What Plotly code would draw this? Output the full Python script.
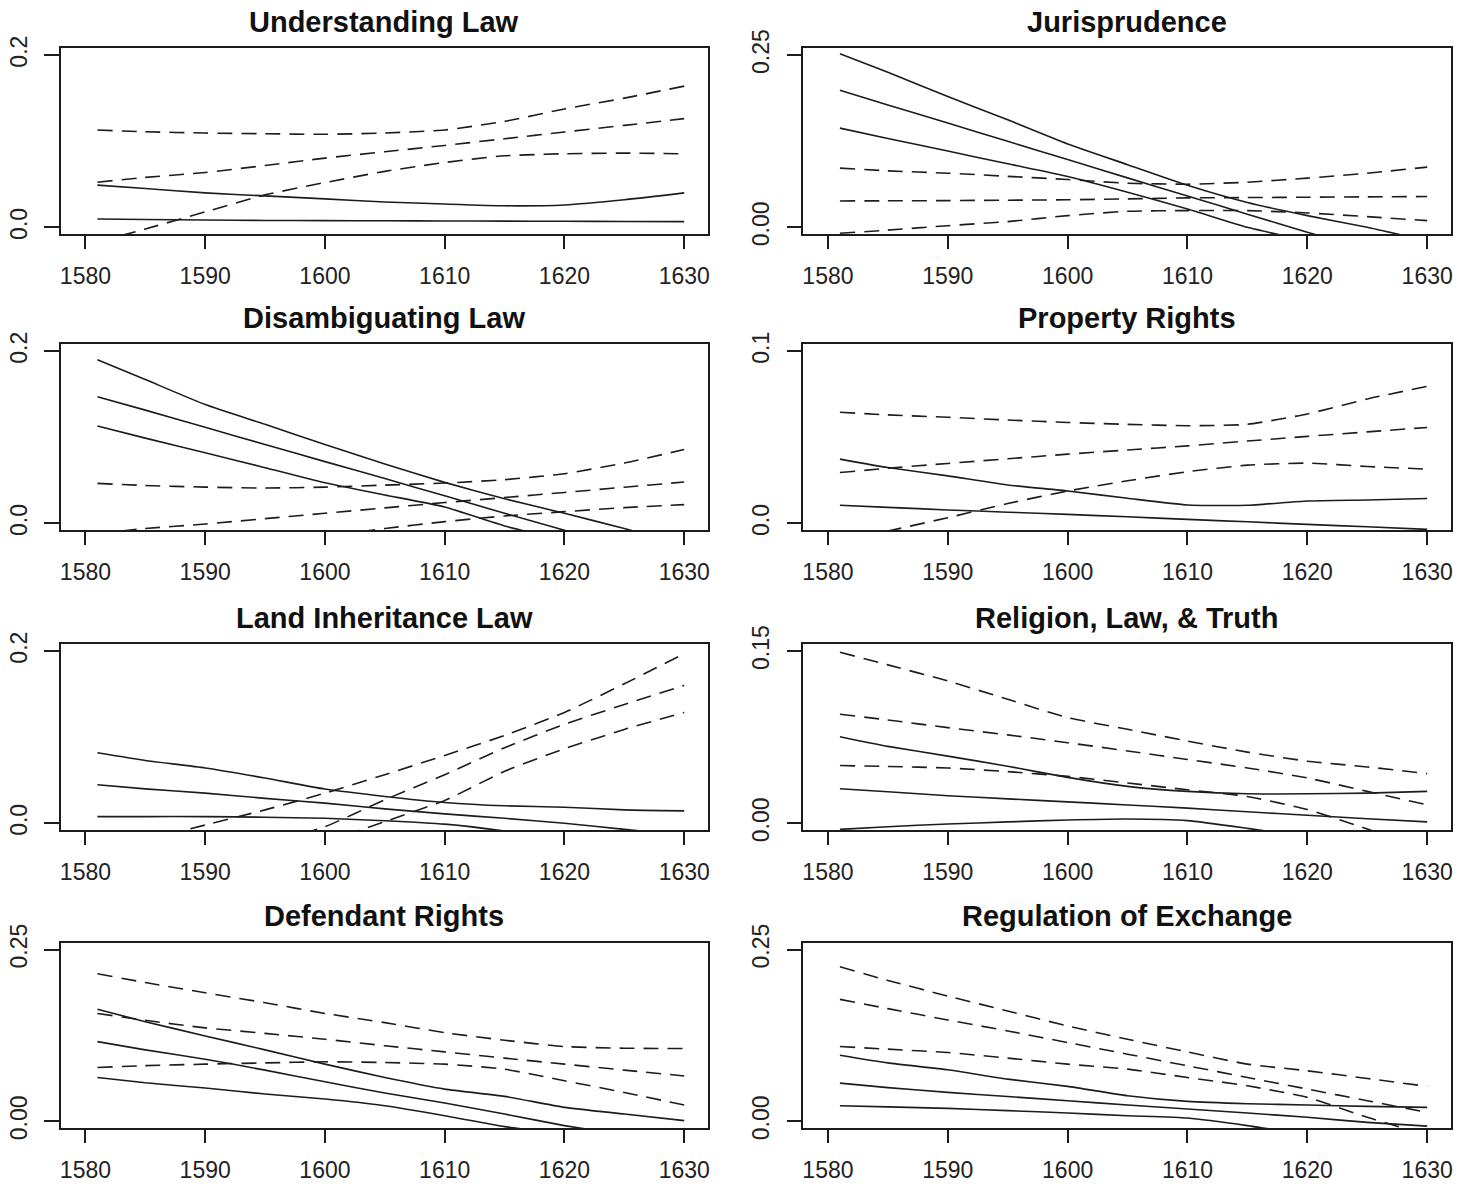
import plotly.graph_objects as go
from plotly.subplots import make_subplots

# Years at which each smoothed curve was sampled
YEARS = [1581, 1585, 1590, 1595, 1600, 1605, 1610, 1615, 1620, 1625, 1630]
X_TICKS = [1580, 1590, 1600, 1610, 1620, 1630]

TITLES = [
    "Understanding Law", "Jurisprudence",
    "Disambiguating Law", "Property Rights",
    "Land Inheritance Law", "Religion, Law, & Truth",
    "Defendant Rights", "Regulation of Exchange",
]
Y_MAX = [0.2, 0.25, 0.2, 0.1, 0.2, 0.15, 0.25, 0.25]
Y_TICK_TEXT = [
    ["0.0", "0.2"], ["0.00", "0.25"],
    ["0.0", "0.2"], ["0.0", "0.1"],
    ["0.0", "0.2"], ["0.00", "0.15"],
    ["0.00", "0.25"], ["0.00", "0.25"],
]

# Solid curves (estimate and band) and dashed curves per topic
UNDERSTANDING_SOLID = [
    [0.049, 0.045, 0.040, 0.0365, 0.033, 0.0295, 0.027, 0.025, 0.026, 0.032, 0.040],
    [0.0097, 0.009, 0.0085, 0.008, 0.0078, 0.0076, 0.0074, 0.0072, 0.007, 0.0068, 0.0066],
]
UNDERSTANDING_DASHED = [
    [0.113, 0.111, 0.1095, 0.1087, 0.108, 0.1095, 0.113, 0.123, 0.1375, 0.150, 0.164],
    [0.0524, 0.058, 0.0637, 0.0718, 0.0804, 0.0878, 0.0951, 0.1029, 0.1107, 0.1184, 0.1262],
    [-0.017, -0.002, 0.018, 0.0377, 0.052, 0.065, 0.0753, 0.0831, 0.0854, 0.0862, 0.0854],
]

JURISPRUDENCE_SOLID = [
    [0.252, 0.225, 0.190, 0.156, 0.121, 0.091, 0.061, 0.036, 0.017, 0.0, -0.02],
    [0.199, 0.1777, 0.1515, 0.1248, 0.0985, 0.0718, 0.0456, 0.019, -0.007, -0.033, -0.06],
    [0.144, 0.129, 0.1107, 0.0922, 0.0738, 0.051, 0.0267, 0.0, -0.02, -0.04, -0.06],
]
JURISPRUDENCE_DASHED = [
    [0.0859, 0.082, 0.0786, 0.074, 0.0694, 0.064, 0.0626, 0.0655, 0.0714, 0.0786, 0.0874],
    [0.0383, 0.0385, 0.0388, 0.0394, 0.040, 0.0413, 0.0427, 0.0432, 0.0437, 0.0442, 0.0447],
    [-0.0087, -0.004, 0.0024, 0.0083, 0.017, 0.0233, 0.0243, 0.0243, 0.0209, 0.0155, 0.0097],
]

DISAMBIGUATING_SOLID = [
    [0.190, 0.167, 0.138, 0.115, 0.0916, 0.069, 0.0476, 0.0285, 0.0117, -0.006, -0.025],
    [0.147, 0.1315, 0.1115, 0.0916, 0.0717, 0.052, 0.032, 0.0117, -0.008, -0.028, -0.048],
    [0.113, 0.099, 0.0819, 0.0647, 0.0472, 0.033, 0.019, -0.003, -0.02, -0.04, -0.06],
]
DISAMBIGUATING_DASHED = [
    [0.0464, 0.044, 0.0421, 0.041, 0.0421, 0.0444, 0.0468, 0.0507, 0.0577, 0.070, 0.0858],
    [-0.012, -0.006, -0.0008, 0.0055, 0.0117, 0.018, 0.0242, 0.030, 0.0359, 0.042, 0.048],
    [-0.04, -0.033, -0.026, -0.02, -0.015, -0.006, 0.002, 0.0086, 0.0136, 0.0183, 0.0218],
]

PROPERTY_SOLID = [
    [0.0373, 0.0324, 0.0276, 0.0223, 0.0188, 0.0146, 0.0107, 0.0105, 0.013, 0.0136, 0.0144],
    [0.0105, 0.0093, 0.0078, 0.0065, 0.0052, 0.0038, 0.0023, 0.0009, -0.0006, -0.002, -0.0035],
]
PROPERTY_DASHED = [
    [0.0645, 0.063, 0.0616, 0.060, 0.0586, 0.0575, 0.0567, 0.0575, 0.0635, 0.0722, 0.0796],
    [0.0295, 0.032, 0.0348, 0.0375, 0.0402, 0.0426, 0.045, 0.0478, 0.0505, 0.0531, 0.0557],
    [-0.011, -0.0045, 0.0033, 0.0115, 0.0188, 0.0247, 0.030, 0.0338, 0.035, 0.033, 0.0315],
]

LAND_SOLID = [
    [0.0819, 0.073, 0.0643, 0.0526, 0.0398, 0.0312, 0.0242, 0.0203, 0.0187, 0.0156, 0.0144],
    [0.0448, 0.040, 0.0351, 0.029, 0.0234, 0.0168, 0.0109, 0.0058, 0.0, -0.007, -0.014],
    [0.0078, 0.0078, 0.0078, 0.007, 0.0058, 0.003, -0.001, -0.009, -0.02, -0.03, -0.04],
]
LAND_DASHED = [
    [-0.035, -0.02, -0.002, 0.0156, 0.035, 0.0565, 0.0788, 0.102, 0.1287, 0.162, 0.197],
    [-0.09, -0.07, -0.05, -0.025, -0.004, 0.0273, 0.0565, 0.0877, 0.115, 0.138, 0.160],
    [-0.12, -0.10, -0.075, -0.05, -0.022, 0.002, 0.0265, 0.0604, 0.0866, 0.109, 0.1287],
]

RELIGION_SOLID = [
    [0.0754, 0.067, 0.0585, 0.0497, 0.040, 0.0322, 0.0278, 0.0257, 0.0257, 0.0263, 0.0278],
    [0.0301, 0.0275, 0.024, 0.0213, 0.0187, 0.016, 0.0132, 0.010, 0.007, 0.004, 0.0012],
    [-0.0053, -0.003, -0.0006, 0.0012, 0.0029, 0.0038, 0.0023, -0.0044, -0.012, -0.02, -0.028],
]
RELIGION_DASHED = [
    [0.149, 0.138, 0.124, 0.108, 0.092, 0.0819, 0.0716, 0.062, 0.0541, 0.0491, 0.0433],
    [0.095, 0.090, 0.0833, 0.077, 0.0702, 0.063, 0.0556, 0.0482, 0.0395, 0.0278, 0.0161],
    [0.0503, 0.0495, 0.0482, 0.045, 0.0409, 0.0351, 0.0292, 0.0234, 0.012, -0.005, -0.025],
]

DEFENDANT_SOLID = [
    [0.163, 0.145, 0.1243, 0.104, 0.0832, 0.0638, 0.0469, 0.0363, 0.0203, 0.0106, 0.001],
    [0.116, 0.104, 0.0904, 0.0745, 0.0575, 0.0411, 0.0266, 0.0106, -0.0063, -0.02, -0.035],
    [0.0638, 0.056, 0.0484, 0.0397, 0.0324, 0.0227, 0.0082, -0.0077, -0.02, -0.035, -0.05],
]
DEFENDANT_DASHED = [
    [0.2147, 0.202, 0.187, 0.1726, 0.157, 0.1436, 0.129, 0.118, 0.1088, 0.1064, 0.1059],
    [0.157, 0.147, 0.136, 0.128, 0.1194, 0.110, 0.101, 0.092, 0.0832, 0.0745, 0.066],
    [0.0783, 0.081, 0.0832, 0.085, 0.0866, 0.0856, 0.0832, 0.0759, 0.059, 0.042, 0.0237],
]

EXCHANGE_SOLID = [
    [0.0962, 0.085, 0.075, 0.0614, 0.0508, 0.0372, 0.029, 0.0256, 0.0237, 0.0218, 0.0203],
    [0.0556, 0.049, 0.0421, 0.036, 0.030, 0.0237, 0.0179, 0.0121, 0.0058, -0.0015, -0.007],
    [0.0227, 0.021, 0.0189, 0.0155, 0.0121, 0.0082, 0.0048, -0.0063, -0.02, -0.03, -0.04],
]
EXCHANGE_DASHED = [
    [0.2249, 0.205, 0.1823, 0.1605, 0.1388, 0.1194, 0.101, 0.0832, 0.0735, 0.0624, 0.0508],
    [0.1775, 0.164, 0.1475, 0.1315, 0.1146, 0.0977, 0.0808, 0.0638, 0.0469, 0.030, 0.013],
    [0.1088, 0.105, 0.1001, 0.092, 0.0832, 0.0759, 0.0638, 0.0517, 0.0348, 0.0058, -0.02],
]

PANELS = [
    (UNDERSTANDING_SOLID, UNDERSTANDING_DASHED),
    (JURISPRUDENCE_SOLID, JURISPRUDENCE_DASHED),
    (DISAMBIGUATING_SOLID, DISAMBIGUATING_DASHED),
    (PROPERTY_SOLID, PROPERTY_DASHED),
    (LAND_SOLID, LAND_DASHED),
    (RELIGION_SOLID, RELIGION_DASHED),
    (DEFENDANT_SOLID, DEFENDANT_DASHED),
    (EXCHANGE_SOLID, EXCHANGE_DASHED),
]

W, H = 1473, 1184
FONT = "Liberation Sans, Arial, Helvetica, sans-serif"
INK = "#1c1c1c"

# Plot boxes in pixels: (left, right) per column, (top, bottom) per row
COL_PX = [(60, 708), (804, 1452.5)]
ROW_PX = [(30.0, 221.0), (334.0, 525.0), (642.0, 833.0), (948.5, 1139.0)]
TITLE_GAP = 27

fig = make_subplots(rows=4, cols=2)

for i, (solid, dashed) in enumerate(PANELS):
    r, c = i // 2, i % 2
    for ys in solid:
        fig.add_trace(go.Scatter(
            x=YEARS, y=ys, mode="lines",
            line=dict(color=INK, width=1.6, shape="spline", smoothing=0.5),
            showlegend=False, hoverinfo="skip"), row=r + 1, col=c + 1)
    for ys in dashed:
        fig.add_trace(go.Scatter(
            x=YEARS, y=ys, mode="lines",
            line=dict(color=INK, width=1.6, dash="15px,9px", shape="spline", smoothing=0.5),
            showlegend=False, hoverinfo="skip"), row=r + 1, col=c + 1)

    left, right = COL_PX[c]
    top, bottom = ROW_PX[r]
    xd = [left / W, right / W]
    yd = [1 - bottom / H, 1 - top / H]
    ymax = Y_MAX[i]
    suffix = "" if i == 0 else str(i + 1)

    fig.layout["xaxis" + suffix].update(
        domain=xd, range=[1577.95, 1631.95],
        tickmode="array", tickvals=X_TICKS, ticktext=[str(v) for v in X_TICKS],
        ticks="outside", ticklen=13, tickwidth=1.5, tickcolor=INK,
        showline=True, mirror=True, linecolor=INK, linewidth=1.6,
        showgrid=False, zeroline=False, ticklabelstandoff=7,
        tickfont=dict(family=FONT, size=23, color="#222"),
    )
    fig.layout["yaxis" + suffix].update(
        domain=yd, range=[-0.04 * ymax, 1.04 * ymax],
        tickmode="array", tickvals=[0, ymax], ticktext=Y_TICK_TEXT[i],
        tickangle=-90, ticks="outside", ticklen=15, tickwidth=1.5, tickcolor=INK,
        showline=True, mirror=True, linecolor=INK, linewidth=1.6,
        showgrid=False, zeroline=False, ticklabelstandoff=8,
        tickfont=dict(family=FONT, size=23, color="#222"),
    )

    fig.add_annotation(
        text="<b>" + TITLES[i] + "</b>", xref="paper", yref="paper",
        x=(left + right) / 2 / W, y=1 - (top - TITLE_GAP) / H,
        xanchor="center", yanchor="middle", showarrow=False,
        font=dict(family=FONT, size=29, color="#111"),
    )

fig.update_layout(
    width=W, height=H, margin=dict(l=0, r=0, t=0, b=0),
    paper_bgcolor="white", plot_bgcolor="white",
)

fig.write_html("out.html")
